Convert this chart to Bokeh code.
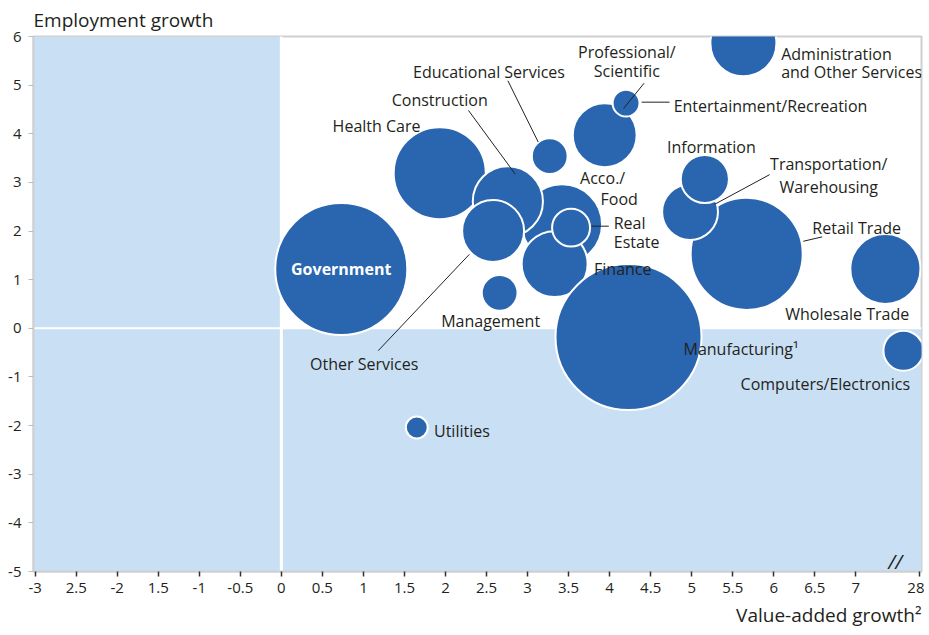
from bokeh.plotting import figure
from bokeh.models import ColumnDataSource, Label, BoxAnnotation, Span, FixedTicker, Title
from bokeh.embed import file_html
from bokeh.resources import INLINE
import math

# ---------------- data ----------------
sectors = ["Health Care", "Government", "Accommodation/Food", "Finance", "Real Estate",
           "Construction", "Other Services", "Management", "Educational Services",
           "Professional/Scientific", "Entertainment/Recreation",
           "Administration and Other Services", "Retail Trade",
           "Transportation/Warehousing", "Information", "Wholesale Trade",
           "Manufacturing", "Computers/Electronics", "Utilities"]
value_added_growth = [1.93, 0.73, 3.42, 3.33, 3.53, 2.76, 2.58, 2.66, 3.27, 3.94, 4.20,
                      5.63, 5.67, 4.98, 5.16, 7.36, 4.23, 27.5, 1.65]
employment_growth = [3.19, 1.22, 2.14, 1.32, 2.07, 2.61, 2.00, 0.73, 3.54, 3.97, 4.63,
                     5.86, 1.53, 2.39, 3.07, 1.22, -0.18, -0.46, -2.04]
employment_share = [21.2, 43.6, 16.0, 10.9, 3.6, 12.3, 9.6, 3.2, 3.2, 10.2, 1.8,
                    10.9, 31.4, 7.8, 5.8, 12.3, 53.3, 4.0, 1.2]

x_tick_values = [-3, -2.5, -2, -1.5, -1, -0.5, 0, 0.5, 1, 1.5, 2, 2.5, 3, 3.5, 4, 4.5,
                 5, 5.5, 6, 6.5, 7, 7.77]
x_tick_labels = ["-3", "2.5", "-2", "1.5", "-1", "-0.5", "0", "0.5", "1", "1.5", "2",
                 "2.5", "3", "3.5", "4", "4.5", "5", "5.5", "6", "6.5", "7", "28"]
y_tick_values = [6, 5, 4, 3, 2, 1, 0, -1, -2, -3, -4, -5]
y_tick_labels = ["6", "5", "4", "3", "2", "1", "0", "-1", "-2", "-3", "-4", "-5"]

# ---------------- style ----------------
BLUE = "#2a66b0"
LIGHT = "#c9e0f4"
TXT = "#231f20"
FONT = "Open Sans"


def axis_pos(v):
    # broken axis: values beyond the break are compressed next to the "28" tick
    return v if v < 7.5 else 7.77 - (28 - v) * 0.38


src = ColumnDataSource(dict(
    name=sectors,
    x=[axis_pos(v) for v in value_added_growth],
    y=employment_growth,
    d=[20 * math.sqrt(s) for s in employment_share],
))

p = figure(width=924, height=635, x_range=(-3.02, 7.80), y_range=(-5, 6),
           output_backend="svg", toolbar_location=None,
           min_border_left=33, min_border_top=35, min_border_right=3, min_border_bottom=64)
p.xgrid.visible = False
p.ygrid.visible = False
p.background_fill_color = "white"
p.border_fill_color = "white"
p.outline_line_color = "#cfcfcf"
p.outline_line_width = 2

# titles
p.title.text = "Employment growth"
p.title.align = "left"
p.title.text_font = FONT
p.title.text_font_size = "19px"
p.title.text_font_style = "normal"
p.title.text_color = TXT
p.title.standoff = 8
p.title.offset = 0
p.add_layout(Title(text="Value-added growth\u00b2", align="right", text_font=FONT,
                   text_font_size="19px", text_font_style="normal", text_color=TXT,
                   standoff=9), "below")

# quadrant background
p.add_layout(BoxAnnotation(right=0, fill_color=LIGHT, fill_alpha=1, line_color=None, level="underlay"))
p.add_layout(BoxAnnotation(left=0, top=0, fill_color=LIGHT, fill_alpha=1, line_color=None, level="underlay"))
p.add_layout(Span(location=0, dimension="height", line_color="white", line_width=3, level="underlay"))
p.add_layout(Span(location=0, dimension="width", line_color="white", line_width=2, level="underlay"))

# axes
p.xaxis.ticker = FixedTicker(ticks=x_tick_values)
p.xaxis.major_label_overrides = dict(zip(x_tick_values, x_tick_labels))
p.yaxis.ticker = FixedTicker(ticks=y_tick_values)
p.yaxis.major_label_overrides = dict(zip(y_tick_values, y_tick_labels))
for ax in (p.xaxis, p.yaxis):
    ax.axis_line_color = "#cfcfcf"
    ax.axis_line_width = 2
    ax.minor_tick_line_color = None
    ax.major_tick_in = 0
    ax.major_tick_out = 5
    ax.major_label_text_font = FONT
    ax.major_label_text_font_size = "15px"
    ax.major_label_text_color = TXT
p.xaxis.major_tick_line_color = "#333333"
p.xaxis.major_tick_line_width = 1.5
p.xaxis.major_label_standoff = 6
p.yaxis.major_tick_line_color = "#bbbbbb"
p.yaxis.major_label_standoff = 7

# bubbles
p.scatter(x="x", y="y", size="d", source=src, marker="circle",
          fill_color=BLUE, line_color="white", line_width=2)

# leader lines
leaders = [(4.42, 5.04, 4.17, 4.52), (4.39, 4.65, 4.73, 4.65), (2.76, 5.09, 3.13, 3.83),
           (2.28, 4.48, 2.85, 3.17), (3.78, 2.10, 3.99, 2.10), (1.18, -0.46, 2.29, 1.52),
           (5.95, 3.16, 5.28, 2.55), (6.59, 1.88, 6.36, 1.79)]
p.segment(x0=[l[0] for l in leaders], y0=[l[1] for l in leaders],
          x1=[l[2] for l in leaders], y1=[l[3] for l in leaders],
          line_color="#222222", line_width=1)

# bubble labels
labels = [
    ("Administration", 6.09, 5.65, "left"),
    ("and Other Services", 6.09, 5.28, "left"),
    ("Professional/", 4.21, 5.69, "center"),
    ("Scientific", 4.21, 5.30, "center"),
    ("Entertainment/Recreation", 4.78, 4.58, "left"),
    ("Educational Services", 2.53, 5.28, "center"),
    ("Construction", 1.93, 4.69, "center"),
    ("Health Care", 1.16, 4.17, "center"),
    ("Acco./", 3.64, 3.09, "left"),
    ("Food", 3.89, 2.66, "left"),
    ("Real", 4.05, 2.16, "left"),
    ("Estate", 4.05, 1.77, "left"),
    ("Finance", 3.81, 1.22, "left"),
    ("Management", 2.55, 0.15, "center"),
    ("Other Services", 0.35, -0.73, "left"),
    ("Information", 5.24, 3.72, "center"),
    ("Transportation/", 6.67, 3.37, "center"),
    ("Warehousing", 6.67, 2.90, "center"),
    ("Retail Trade", 6.47, 2.06, "left"),
    ("Wholesale Trade", 7.65, 0.30, "right"),
    ("Manufacturing\u00b9", 4.90, -0.42, "left"),
    ("Computers/Electronics", 7.66, -1.14, "right"),
    ("Utilities", 1.86, -2.11, "left"),
]
for t, lx, ly, al in labels:
    p.add_layout(Label(x=lx, y=ly, text=t, text_align=al, text_baseline="middle",
                       text_font=FONT, text_font_size="16px", text_color=TXT))

gi = sectors.index("Government")
p.add_layout(Label(x=axis_pos(value_added_growth[gi]), y=employment_growth[gi], text="Government",
                   text_align="center", text_baseline="middle", text_font=FONT,
                   text_font_size="16px", text_font_style="bold", text_color="white"))

# axis break mark
p.add_layout(Label(x=7.48, y=-5, y_offset=-3, text="//", text_align="center", text_baseline="bottom",
                   text_font=FONT, text_font_size="20px", text_font_style="italic", text_color=TXT))

open("out.html", "w").write(file_html(p, INLINE))
